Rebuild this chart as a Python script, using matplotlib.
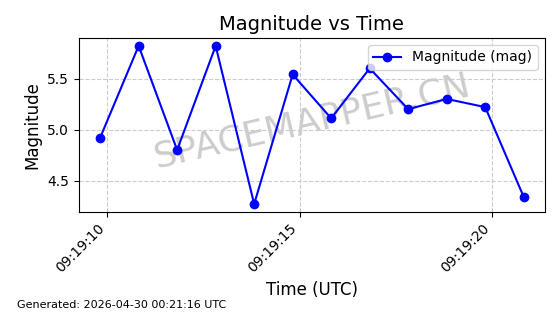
import numpy as np
import pandas as pd
import matplotlib
matplotlib.use("Agg")
import matplotlib.pyplot as plt
import matplotlib.dates as mdates

times = pd.to_datetime([
    "2026-04-30 09:19:09.82", "2026-04-30 09:19:10.82", "2026-04-30 09:19:11.82",
    "2026-04-30 09:19:12.82", "2026-04-30 09:19:13.82", "2026-04-30 09:19:14.82",
    "2026-04-30 09:19:15.82", "2026-04-30 09:19:16.82", "2026-04-30 09:19:17.82",
    "2026-04-30 09:19:18.82", "2026-04-30 09:19:19.82", "2026-04-30 09:19:20.82",
])
magnitude = [4.92, 5.82, 4.80, 5.82, 4.27, 5.54, 5.11, 5.60, 5.20, 5.30, 5.22, 4.34]
yticks = [4.5, 5.0, 5.5]

fig, ax = plt.subplots(figsize=(5.6, 3.14), dpi=100)
fig.subplots_adjust(left=0.141, right=0.973, top=0.879, bottom=0.325)

ax.plot(times, magnitude, marker='o', color='blue', markersize=6, linewidth=1.5,
        label='Magnitude (mag)')
ax.set_yticks(yticks)
ax.xaxis.set_major_locator(mdates.SecondLocator(bysecond=range(0, 60, 5)))
ax.xaxis.set_major_formatter(mdates.DateFormatter('%H:%M:%S'))
plt.setp(ax.get_xticklabels(), rotation=45, ha='right')
ax.grid(True, linestyle='--', color='#cccccc', linewidth=0.8)

ax.set_title('Magnitude vs Time', fontsize=14)
ax.set_xlabel('Time (UTC)', fontsize=12)
ax.set_ylabel('Magnitude', fontsize=12)
ax.legend(loc='upper right')

# watermark
ax.text(0.5, 0.52, 'SPACEMAPPER.CN', transform=ax.transAxes, fontsize=26,
        color='gray', alpha=0.4, rotation=13, ha='center', va='center', zorder=0)

fig.text(0.03, 0.02, 'Generated: 2026-04-30 00:21:16 UTC', fontsize=8)

fig.savefig('out.png', dpi=100)
